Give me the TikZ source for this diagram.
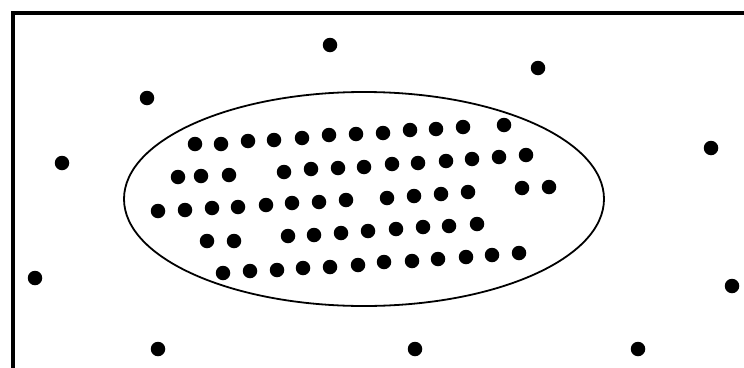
\documentclass[tikz,border=0pt]{standalone}
\begin{document}
\begin{tikzpicture}[x=1pt,y=-1pt,
  dot/.style={circle,fill=black,inner sep=0pt,minimum size=14.5pt},
  frame/.style={line width=4.5pt},
  blob/.style={line width=1.8pt}]
\useasboundingbox (0,0) rectangle (744,367);
\draw[frame] (13,370) -- (13,13) -- (747,13);
\draw[blob] (364,199) ellipse [x radius=240, y radius=107];
% outer dots
\foreach \x/\y [count=\i] in {330/45,147/98,62/163,538/68,711/148,35/278,158/349,415/349,638/349,732/286}
  \node[dot] (o\i) at (\x,\y) {};
% inner dots
\foreach \x/\y [count=\i] in {195/144,221/144,248/141,274/140,302/138,329/135,356/134,383/133,410/130,436/129,463/127,504/125,
  178/177,201/176,229/175,284/172,311/169,338/168,364/167,392/164,418/163,446/161,472/159,499/157,526/155,
  158/211,185/210,212/208,238/207,266/205,292/203,319/202,346/200,387/198,414/196,441/194,468/192,522/188,549/187,
  207/241,234/241,288/236,314/235,341/233,368/231,396/229,423/227,449/226,477/224,
  223/273,250/271,277/270,303/268,330/267,358/265,384/262,412/261,438/259,466/257,492/255,519/253}
  \node[dot] (d\i) at (\x,\y) {};
\end{tikzpicture}
\end{document}
